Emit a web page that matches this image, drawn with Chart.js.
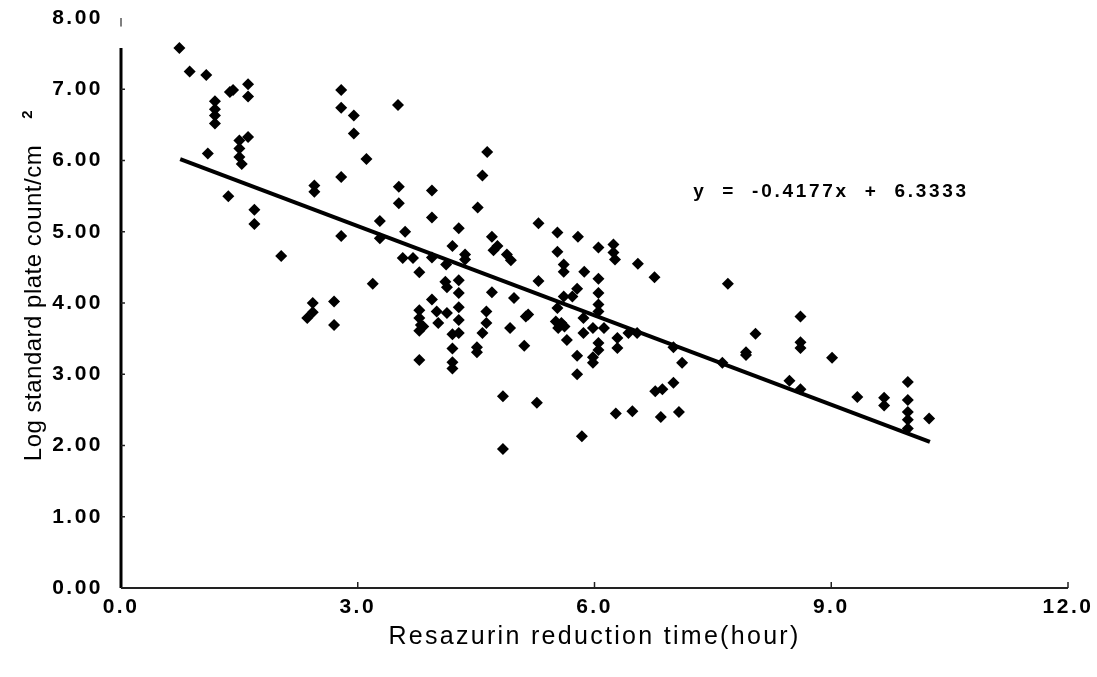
<!DOCTYPE html>
<html>
<head>
<meta charset="utf-8">
<script src="https://cdn.jsdelivr.net/npm/chart.js@4.4.0/dist/chart.umd.min.js"></script>
<style>
  html, body { margin: 0; padding: 0; background: #fff; }
  #chart { display: block; }
</style>
</head>
<body>
<canvas id="chart" width="1097" height="677"></canvas>
<script>
// resazurin reduction time (hour) vs log standard plate count/cm2
const timeHours = [
  0.74, 0.87, 1.08, 1.19, 1.19, 1.19, 1.19, 1.10, 1.38, 1.42,
  1.61, 1.61, 1.50, 1.61, 1.50, 1.50, 1.53, 1.36, 1.69, 1.69,
  2.03, 2.43, 2.43, 2.36, 2.70, 2.70, 2.45, 2.45, 2.79, 2.79,
  2.95, 2.95, 3.11, 2.79, 2.79, 3.28, 3.28, 3.19, 3.51, 3.52,
  3.52, 3.94, 3.94, 3.60, 4.64, 4.58, 4.52, 4.28, 4.20, 4.36,
  4.36, 4.70, 4.77, 4.72, 4.89, 4.94, 3.57, 3.70, 3.94, 4.12,
  3.78, 4.11, 4.13, 4.28, 4.28, 4.70, 4.98, 3.94, 3.78, 3.78,
  3.80, 3.78, 3.83, 4.00, 4.13, 4.02, 4.28, 4.28, 4.28, 4.20,
  4.20, 4.20, 4.20, 3.78, 4.63, 4.63, 4.58, 4.51, 4.51, 4.93,
  5.13, 5.16, 5.11, 5.29, 5.29, 5.53, 5.53, 5.79, 5.61, 5.61,
  5.87, 5.61, 5.72, 5.78, 5.53, 5.51, 5.58, 5.54, 5.62, 5.65,
  5.86, 5.86, 5.78, 5.78, 6.05, 6.05, 6.05, 6.05, 6.05, 5.98,
  6.12, 6.05, 6.05, 5.98, 5.98, 6.24, 6.24, 6.26, 6.29, 6.29,
  6.55, 6.76, 6.43, 6.54, 7.00, 7.00, 6.77, 6.86, 6.27, 6.48,
  6.84, 7.07, 4.84, 5.27, 5.84, 4.84, 7.69, 8.61, 8.61, 8.61,
  8.04, 7.92, 7.92, 9.01, 8.47, 8.61, 7.62, 7.11, 9.33, 9.67,
  9.67, 9.97, 9.97, 9.97, 9.97, 9.97, 10.24,
]
const logCounts = [
  7.58, 7.25, 7.20, 6.83, 6.72, 6.63, 6.52, 6.10, 6.96, 6.99,
  7.07, 6.90, 6.28, 6.33, 6.17, 6.05, 5.95, 5.50, 5.31, 5.11,
  4.66, 4.00, 3.87, 3.79, 4.02, 3.69, 5.65, 5.56, 6.99, 6.74,
  6.63, 6.38, 6.02, 5.77, 4.94, 5.15, 4.91, 4.27, 6.78, 5.63,
  5.40, 5.58, 5.20, 5.00, 6.12, 5.79, 5.34, 5.05, 4.80, 4.68,
  4.61, 4.93, 4.80, 4.74, 4.68, 4.60, 4.63, 4.63, 4.64, 4.54,
  4.43, 4.30, 4.22, 4.32, 4.14, 4.15, 4.07, 4.05, 3.90, 3.79,
  3.69, 3.61, 3.67, 3.88, 3.86, 3.72, 3.94, 3.76, 3.58, 3.56,
  3.36, 3.17, 3.08, 3.20, 3.88, 3.72, 3.58, 3.38, 3.31, 3.65,
  3.81, 3.84, 3.40, 4.31, 5.12, 4.99, 4.72, 4.93, 4.54, 4.44,
  4.44, 4.09, 4.09, 4.20, 3.93, 3.74, 3.72, 3.65, 3.67, 3.48,
  3.79, 3.58, 3.26, 3.00, 4.78, 4.34, 4.14, 3.98, 3.88, 3.65,
  3.65, 3.44, 3.34, 3.24, 3.16, 4.82, 4.71, 4.61, 3.51, 3.37,
  4.55, 4.36, 3.58, 3.58, 3.38, 2.88, 2.76, 2.79, 2.45, 2.48,
  2.40, 2.47, 2.69, 2.60, 2.13, 1.95, 4.27, 3.81, 3.45, 3.37,
  3.57, 3.31, 3.27, 3.23, 2.91, 2.79, 3.16, 3.16, 2.68, 2.67,
  2.56, 2.89, 2.64, 2.47, 2.36, 2.24, 2.38,
]

// fitted line as printed on the chart
const fitSlope = -0.4177
const fitIntercept = 6.3333
const fitRange = [0.75, 10.25]

const xTickValues = [0, 3, 6, 9, 12]
const xTickLabels = ["0.0", "3.0", "6.0", "9.0", "12.0"]
const yTickValues = [0, 1, 2, 3, 4, 5, 6, 7, 8]
const yTickLabels = ["0.00", "1.00", "2.00", "3.00", "4.00", "5.00", "6.00", "7.00", "8.00"]

const equationText = "y  =  -0.4177x  +  6.3333"
const xTitle = "Resazurin reduction time(hour)"
const yTitle = "Log standard plate count/cm"

const points = timeHours.map((t, i) => ({ x: t, y: logCounts[i] }))
const fitLine = fitRange.map((t) => ({ x: t, y: fitSlope * t + fitIntercept }))

const tickFont = { family: "'Liberation Sans', Arial, sans-serif", size: 21, weight: "bold" }

// wider letter spacing for the tick labels, like the scanned original
const spacing = {
  id: "spacing",
  beforeDraw(chart) {
    chart.ctx.letterSpacing = "2.5px"
  },
}

const decorations = {
  id: "decorations",
  afterDraw(chart) {
    const { ctx, chartArea } = chart
    const x = chart.scales.x
    const y = chart.scales.y
    ctx.save()

    // axes
    ctx.strokeStyle = "#000"
    ctx.lineWidth = 3
    ctx.beginPath()
    ctx.moveTo(chartArea.left, y.getPixelForValue(7.58))
    ctx.lineTo(chartArea.left, chartArea.bottom)
    ctx.stroke()

    ctx.lineWidth = 1
    ctx.beginPath()
    ctx.moveTo(chartArea.left, y.getPixelForValue(8))
    ctx.lineTo(chartArea.left, y.getPixelForValue(7.88))
    ctx.stroke()

    ctx.strokeStyle = "#222"
    ctx.lineWidth = 2
    ctx.beginPath()
    ctx.moveTo(chartArea.left, chartArea.bottom)
    ctx.lineTo(chartArea.right, chartArea.bottom)
    ctx.stroke()

    // small inward ticks
    ctx.lineWidth = 1.5
    xTickValues.slice(1).forEach((v) => {
      const px = x.getPixelForValue(v)
      ctx.beginPath()
      ctx.moveTo(px, chartArea.bottom)
      ctx.lineTo(px, chartArea.bottom - 6)
      ctx.stroke()
    })
    yTickValues.slice(1, -1).forEach((v) => {
      const py = y.getPixelForValue(v)
      ctx.beginPath()
      ctx.moveTo(chartArea.left, py)
      ctx.lineTo(chartArea.left + 4, py)
      ctx.stroke()
    })

    ctx.fillStyle = "#000"

    // regression equation
    ctx.font = "bold 19px 'Liberation Sans', Arial, sans-serif"
    ctx.letterSpacing = "2.7px"
    ctx.textAlign = "left"
    ctx.textBaseline = "middle"
    ctx.fillText(equationText, x.getPixelForValue(7.25), y.getPixelForValue(5.56))

    // x title
    ctx.font = "25px 'Liberation Sans', Arial, sans-serif"
    ctx.letterSpacing = "2.3px"
    ctx.textAlign = "center"
    ctx.fillText(xTitle, (chartArea.left + chartArea.right) / 2, 637)

    // y title with superscript
    ctx.letterSpacing = "0.5px"
    ctx.font = "24px 'Liberation Sans', Arial, sans-serif"
    const midY = (chartArea.top + chartArea.bottom) / 2
    ctx.translate(34, midY)
    ctx.rotate(-Math.PI / 2)
    ctx.fillText(yTitle, 0, 0)
    const w = ctx.measureText(yTitle).width
    ctx.font = "bold 15px 'Liberation Sans', Arial, sans-serif"
    ctx.textAlign = "left"
    ctx.fillText("2", w / 2 + 26, -6)

    ctx.restore()
  },
}

const config = {
  type: "scatter",
  data: {
    datasets: [
      {
        label: "samples",
        data: points,
        pointStyle: "rectRot",
        pointRadius: 6,
        backgroundColor: "#000",
        borderWidth: 0,
      },
      {
        type: "line",
        label: "fit",
        data: fitLine,
        borderColor: "#000",
        borderWidth: 4,
        pointRadius: 0,
        fill: false,
      },
    ],
  },
  options: {
    responsive: false,
    animation: false,
    layout: { padding: { top: 18, right: 29, left: 0, bottom: 0 } },
    plugins: {
      legend: { display: false },
      tooltip: { enabled: false },
    },
    scales: {
      x: {
        type: "linear",
        min: 0,
        max: 12,
        afterBuildTicks: (s) => { s.ticks = xTickValues.map((v) => ({ value: v })) },
        afterFit: (s) => {
          s.height = 89
          s.paddingLeft = 0
          s.paddingRight = 0
        },
        ticks: {
          callback: (v, i) => xTickLabels[i],
          font: tickFont,
          color: "#000",
          padding: 7,
          maxRotation: 0,
        },
        grid: { display: false, drawTicks: false },
        border: { display: false },
      },
      y: {
        type: "linear",
        min: 0,
        max: 8,
        afterBuildTicks: (s) => { s.ticks = yTickValues.map((v) => ({ value: v })) },
        afterFit: (s) => {
          s.width = 121
          s.paddingTop = 0
          s.paddingBottom = 0
        },
        ticks: {
          callback: (v, i) => yTickLabels[i],
          font: tickFont,
          color: "#000",
          padding: 18,
        },
        grid: { display: false, drawTicks: false },
        border: { display: false },
      },
    },
  },
  plugins: [spacing, decorations],
}

new Chart(document.getElementById("chart").getContext("2d"), config)
</script>
</body>
</html>
